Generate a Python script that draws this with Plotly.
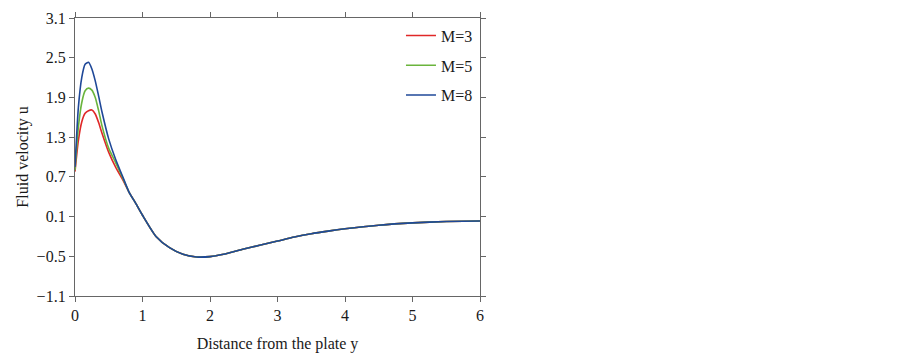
import plotly.graph_objects as go

y_dist = [0, 0.05, 0.1, 0.15, 0.2, 0.25, 0.3, 0.35, 0.4, 0.5, 0.6, 0.7, 0.8, 0.9,
          1.0, 1.2, 1.4, 1.6, 1.8, 2.0, 2.2, 2.5, 2.75, 3.0, 3.25, 3.5, 3.75, 4.0,
          4.5, 5.0, 5.5, 6.0]

tail = [0.30, 0.12, -0.20, -0.37, -0.47, -0.51, -0.505, -0.47, -0.39, -0.33, -0.27,
        -0.21, -0.16, -0.12, -0.085, -0.03, 0.005, 0.025, 0.033]

u_M3 = [0.78, 1.25, 1.53, 1.66, 1.70, 1.71, 1.65, 1.52, 1.36, 1.07, 0.85, 0.67, 0.47] + tail
u_M5 = [0.80, 1.45, 1.82, 2.00, 2.04, 2.01, 1.90, 1.70, 1.47, 1.13, 0.92, 0.70, 0.47] + tail
u_M8 = [0.85, 1.75, 2.20, 2.40, 2.43, 2.33, 2.15, 1.92, 1.68, 1.27, 0.97, 0.72, 0.47] + tail

series = [("M=3", u_M3, "#e02828"), ("M=5", u_M5, "#6ab43c"), ("M=8", u_M8, "#1f4898")]

x_ticks = [0, 1, 2, 3, 4, 5, 6]
y_ticks = [-1.1, -0.5, 0.1, 0.7, 1.3, 1.9, 2.5, 3.1]
y_tick_text = ["\u22121.1", "\u22120.5", "0.1", "0.7", "1.3", "1.9", "2.5", "3.1"]

fig = go.Figure()
for i, (name, vals, col) in enumerate(series):
    fig.add_trace(go.Scatter(x=y_dist, y=vals, mode="lines", name=name,
                             legendgroup=name,
                             line=dict(color=col, width=1.6, shape="spline", smoothing=0.6)))

font_family = "Liberation Serif, Times New Roman, serif"
axis_common = dict(showline=True, linecolor="#666666", linewidth=1.3, mirror="ticks",
                   ticks="outside", ticklen=5, tickcolor="#666666", tickwidth=1.3,
                   showgrid=False, zeroline=False, automargin=False,
                   tickfont=dict(family=font_family, size=16, color="#1a1a1a"))

fig.update_layout(
    width=903, height=358,
    margin=dict(l=66.5, r=430.5, t=9.5, b=69.5),
    paper_bgcolor="white", plot_bgcolor="white",
    font=dict(family=font_family, size=16, color="#1a1a1a"),
    xaxis=dict(range=[0, 6], tickvals=x_ticks,
               title=dict(text="Distance from the plate y", standoff=14,
                          font=dict(family=font_family, size=16)),
               **axis_common),
    yaxis=dict(range=[-1.1, 3.1], tickvals=y_ticks, ticktext=y_tick_text,
               title=dict(text="Fluid velocity u", standoff=4,
                          font=dict(family=font_family, size=16)),
               **axis_common),
    legend=dict(x=0.995, y=0.998, xanchor="right", yanchor="top",
                bgcolor="rgba(0,0,0,0)", tracegroupgap=6,
                font=dict(family=font_family, size=16, color="#1a1a1a"),
                itemwidth=30),
    showlegend=True,
)

fig.write_html("out.html")
